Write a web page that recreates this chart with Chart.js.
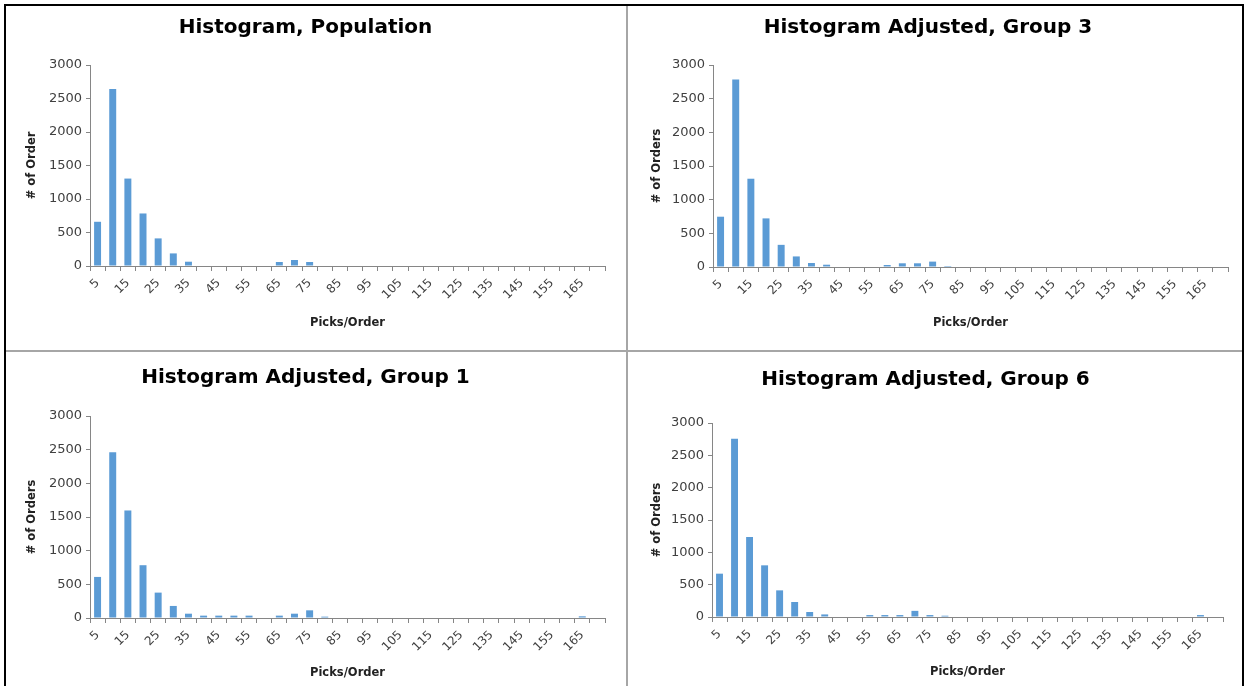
<!DOCTYPE html>
<html>
<head>
<meta charset="utf-8">
<title>Histograms</title>
<script src="https://cdn.jsdelivr.net/npm/chart.js@4.4.1/dist/chart.umd.min.js"></script>
<style>
  body { margin: 0; background: #fff; overflow: hidden; }
  .frame { position: absolute; left: 4px; top: 4px; width: 1236px; height: 700px; border: 2px solid #000; border-bottom: none; }
  .vline { position: absolute; left: 626px; top: 6px; width: 2px; height: 680px; background: #a6a6a6; }
  .hline { position: absolute; left: 6px; top: 350px; width: 1236px; height: 2px; background: #a6a6a6; }
  .cell { position: absolute; }
</style>
</head>
<body>
<div class="frame"></div>
<div class="vline"></div>
<div class="hline"></div>
<div class="cell" style="left:6px;top:6px;width:620px;height:344px"><canvas id="c1"></canvas></div>
<div class="cell" style="left:628px;top:6px;width:614px;height:344px"><canvas id="c2"></canvas></div>
<div class="cell" style="left:6px;top:352px;width:620px;height:334px"><canvas id="c3"></canvas></div>
<div class="cell" style="left:628px;top:352px;width:614px;height:334px"><canvas id="c4"></canvas></div>
<script>
const picks = [5, 10, 15, 20, 25, 30, 35, 40, 45, 50, 55, 60, 65, 70, 75, 80, 85,
    90, 95, 100, 105, 110, 115, 120, 125, 130, 135, 140, 145, 150, 155, 160, 165, 170];

const population = [660, 2640, 1305, 784, 412, 188, 64, 0, 0, 0, 0, 0, 60, 90, 60, 0, 0,
    0, 0, 0, 0, 0, 0, 0, 0, 0, 0, 0, 0, 0, 0, 0, 0, 0];
const group3 = [747, 2785, 1311, 722, 329, 157, 59, 34, 0, 0, 0, 30, 55, 55, 80, 15, 0,
    0, 0, 0, 0, 0, 0, 0, 0, 0, 0, 0, 0, 0, 0, 0, 0, 0];
const group1 = [610, 2460, 1597, 784, 377, 179, 64, 35, 35, 35, 35, 0, 35, 64, 114, 20, 0,
    0, 0, 0, 0, 0, 0, 0, 0, 0, 0, 0, 0, 0, 0, 0, 25, 0];
const group6 = [670, 2758, 1237, 799, 412, 232, 77, 40, 0, 0, 30, 30, 30, 95, 30, 20, 0,
    0, 0, 0, 0, 0, 0, 0, 0, 0, 0, 0, 0, 0, 0, 0, 30, 0];

const yTicks = [0, 500, 1000, 1500, 2000, 2500, 3000];

const font = "'DejaVu Sans', sans-serif";
const axisColor = "#868686";
const textColor = "#404040";

function histogram(id, title, yTitle, values, box) {
    return new Chart(document.getElementById(id), {
        type: "bar",
        data: {
            labels: picks,
            datasets: [{
                data: values,
                backgroundColor: "#5b9bd5",
                barPercentage: 0.46,
                categoryPercentage: 1,
            }],
        },
        options: {
            responsive: true,
            maintainAspectRatio: false,
            animation: false,
            layout: { padding: { left: 0, right: box.right, top: 0, bottom: 0 } },
            plugins: {
                legend: { display: false },
                tooltip: { enabled: false },
                title: {
                    display: true,
                    text: title,
                    color: "#000",
                    font: { family: font, size: 20, weight: "bold" },
                    padding: { top: box.titleTop, bottom: box.titleBottom },
                },
            },
            scales: {
                x: {
                    afterFit: (scale) => { scale.height = box.xHeight; },
                    grid: { offset: true, drawOnChartArea: false, tickLength: 5, color: axisColor },
                    border: { color: axisColor },
                    ticks: {
                        autoSkip: false,
                        maxRotation: 45,
                        minRotation: 45,
                        padding: 5,
                        color: textColor,
                        font: { family: font, size: 12 },
                        callback: function (value, index) {
                            return index % 2 === 0 ? this.getLabelForValue(value) : "";
                        },
                    },
                    title: {
                        display: true,
                        text: "Picks/Order",
                        color: "#222",
                        font: { family: font, size: 11.5, weight: "bold" },
                        padding: { top: 0, bottom: box.xTitlePad },
                    },
                },
                y: {
                    min: 0,
                    max: 3000,
                    afterFit: (scale) => { scale.width = box.yWidth; },
                    afterBuildTicks: (scale) => { scale.ticks = yTicks.map((v) => ({ value: v })); },
                    grid: { drawOnChartArea: false, tickLength: 4, color: axisColor },
                    border: { color: axisColor },
                    ticks: {
                        padding: 4,
                        color: textColor,
                        font: { family: font, size: 13 },
                        callback: (value) => String(value),
                    },
                    title: {
                        display: true,
                        text: yTitle,
                        color: "#222",
                        font: { family: font, size: 11.5, weight: "bold" },
                        padding: { top: box.yTitlePad, bottom: 0 },
                    },
                },
            },
        },
    });
}

histogram("c1", "Histogram, Population", "# of Order", population,
    { right: 21, titleTop: 10, titleBottom: 25, xHeight: 84, xTitlePad: 20, yWidth: 84, yTitlePad: 19 });
histogram("c2", "Histogram Adjusted, Group 3", "# of Orders", group3,
    { right: 14, titleTop: 10, titleBottom: 25, xHeight: 83, xTitlePad: 20, yWidth: 85, yTitlePad: 22 });
histogram("c3", "Histogram Adjusted, Group 1", "# of Orders", group1,
    { right: 21, titleTop: 14, titleBottom: 26, xHeight: 68, xTitlePad: 6, yWidth: 84, yTitlePad: 19 });
histogram("c4", "Histogram Adjusted, Group 6", "# of Orders", group6,
    { right: 19, titleTop: 16, titleBottom: 31, xHeight: 69, xTitlePad: 7, yWidth: 84, yTitlePad: 22 });
</script>
</body>
</html>
